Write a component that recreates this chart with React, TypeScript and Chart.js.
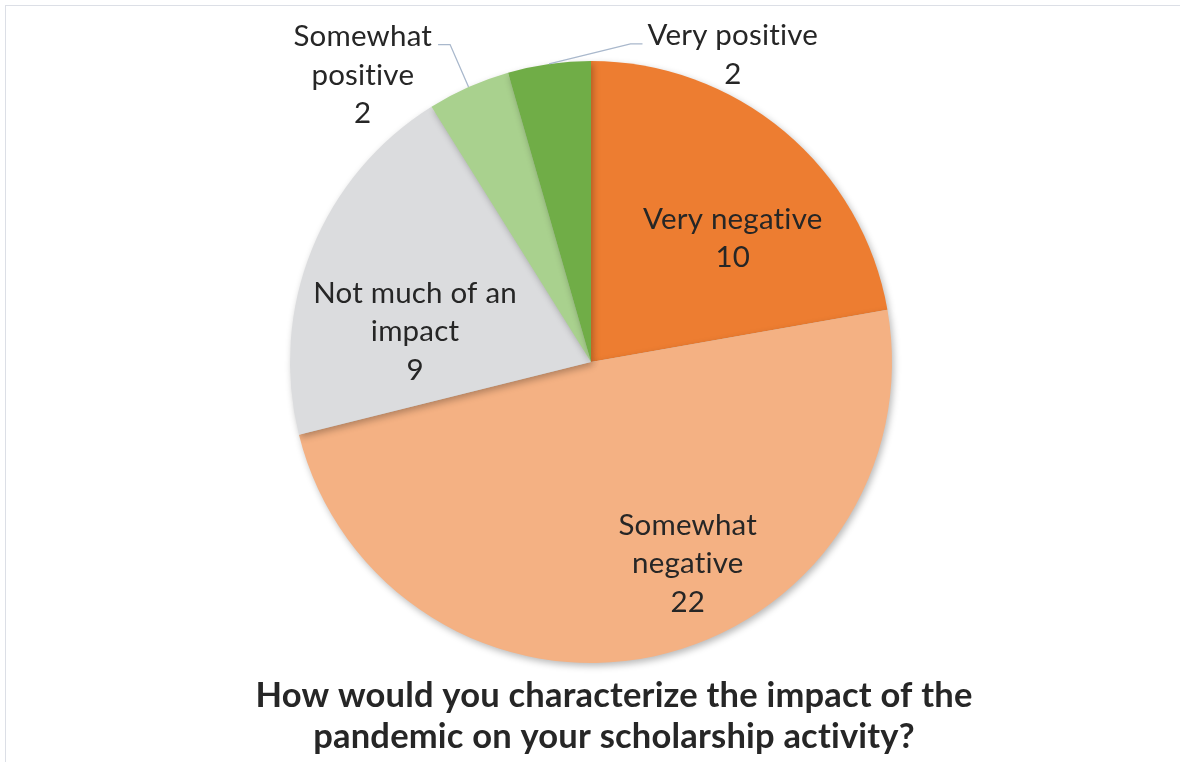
import React, { useEffect, useRef } from "react";
import { Chart, registerables } from "chart.js";

Chart.register(...registerables);

// Survey responses
const categories = [
  "Very negative",
  "Somewhat negative",
  "Not much of an impact",
  "Somewhat positive",
  "Very positive",
];
const counts = [10, 22, 9, 2, 2];
const sliceColors = ["#ED7D31", "#F4B183", "#DBDCDE", "#A9D18E", "#70AD47"];

// Label text split into rows (value is appended as the last row)
const labelRows = [
  ["Very negative"],
  ["Somewhat", "negative"],
  ["Not much of an", "impact"],
  ["Somewhat", "positive"],
  ["Very positive"],
];

const titleLines = [
  "How would you characterize the impact of the",
  "pandemic on your scholarship activity?",
];

// Label placement: angle (deg, clockwise from 12 o'clock) and distance as a
// fraction of the radius; outside labels get a leader line.
const labelPlacement = [
  { angle: 48.9, dist: 0.625, outside: false },
  { angle: 154.4, dist: 0.744, outside: false },
  { angle: 279.7, dist: 0.593, outside: false },
  { angle: 321.5, dist: 1.218, outside: true },
  { angle: 24.8, dist: 1.123, outside: true },
];

const FONT = "Lato, 'Open Sans', sans-serif";
const TEXT_COLOR = "#262626";
const LABEL_SIZE = 29.5;
const LABEL_LINE = 38.5;

const shadowPlugin = {
  id: "pieShadow",
  beforeDatasetsDraw(chart: any) {
    const ctx = chart.ctx;
    ctx.save();
    ctx.shadowColor = "rgba(0,0,0,0.28)";
    ctx.shadowBlur = 7;
    ctx.shadowOffsetX = 2;
    ctx.shadowOffsetY = 3;
  },
  afterDatasetsDraw(chart: any) {
    chart.ctx.restore();
  },
};

const labelPlugin = {
  id: "sliceLabels",
  afterDraw(chart: any) {
    const ctx = chart.ctx;
    const meta = chart.getDatasetMeta(0);
    const arcs = meta.data;
    if (!arcs.length) return;
    const cx = arcs[0].x;
    const cy = arcs[0].y;
    const r = arcs[0].outerRadius;
    ctx.save();
    // slight tracking keeps the font's "ti" ligature from kicking in
    (ctx as any).letterSpacing = "0.2px";
    ctx.font = `${LABEL_SIZE}px ${FONT}`;
    ctx.fillStyle = TEXT_COLOR;
    ctx.textAlign = "center";
    ctx.textBaseline = "middle";

    arcs.forEach((arc: any, i: number) => {
      const place = labelPlacement[i];
      const rows = [...labelRows[i], String(counts[i])];
      const a = (place.angle * Math.PI) / 180;
      const lx = cx + Math.sin(a) * r * place.dist;
      const ly = cy - Math.cos(a) * r * place.dist;
      const top = ly - ((rows.length - 1) * LABEL_LINE) / 2;

      if (place.outside) {
        const mid = (arc.startAngle + arc.endAngle) / 2;
        const sx = cx + Math.cos(mid) * r;
        const sy = cy + Math.sin(mid) * r;
        const halfW = Math.max(...rows.map((t) => ctx.measureText(t).width)) / 2;
        const toLeft = lx < sx;
        const ex = toLeft ? lx + halfW + 6 : lx - halfW - 5;
        const ey = top + 8;
        const elbowX = toLeft ? ex + 12 : ex - 12;
        ctx.save();
        ctx.strokeStyle = "#A9B8CC";
        ctx.lineWidth = 1.3;
        ctx.beginPath();
        ctx.moveTo(sx, sy);
        ctx.lineTo(elbowX, ey);
        ctx.lineTo(ex, ey);
        ctx.stroke();
        ctx.restore();
      }

      rows.forEach((t, k) => {
        ctx.fillText(t, lx, top + k * LABEL_LINE);
      });
    });

    // Chart title below the pie
    ctx.font = `bold 34.5px ${FONT}`;
    ctx.fillStyle = TEXT_COLOR;
    ctx.textAlign = "center";
    ctx.textBaseline = "alphabetic";
    titleLines.forEach((t, k) => {
      ctx.fillText(t, 614, 707 + k * 41);
    });
    ctx.restore();
  },
};

export default function App() {
  const canvasRef = useRef<HTMLCanvasElement | null>(null);

  useEffect(() => {
    if (!canvasRef.current) return;
    const chart = new Chart(canvasRef.current, {
      type: "pie",
      data: {
        labels: categories,
        datasets: [
          {
            data: counts,
            backgroundColor: sliceColors,
            borderWidth: 0,
          },
        ],
      },
      options: {
        animation: false,
        responsive: true,
        maintainAspectRatio: false,
        layout: { padding: { top: 61, bottom: 99, left: 290, right: 288 } },
        plugins: {
          legend: { display: false },
          title: { display: false },
          tooltip: { enabled: false },
        },
      },
      plugins: [shadowPlugin, labelPlugin],
    });
    return () => chart.destroy();
  }, []);

  return (
    <div
      style={{
        position: "fixed",
        left: 0,
        top: 0,
        width: 1180,
        height: 762,
        background: "#ffffff",
        overflow: "hidden",
      }}
    >
      <div
        style={{
          position: "absolute",
          left: 5,
          top: 5,
          width: 1200,
          height: 800,
          borderTop: "1.5px solid #DCDFE6",
          borderLeft: "1.5px solid #DCDFE6",
        }}
      />
      <canvas ref={canvasRef} style={{ position: "absolute", left: 0, top: 0 }} />
    </div>
  );
}
